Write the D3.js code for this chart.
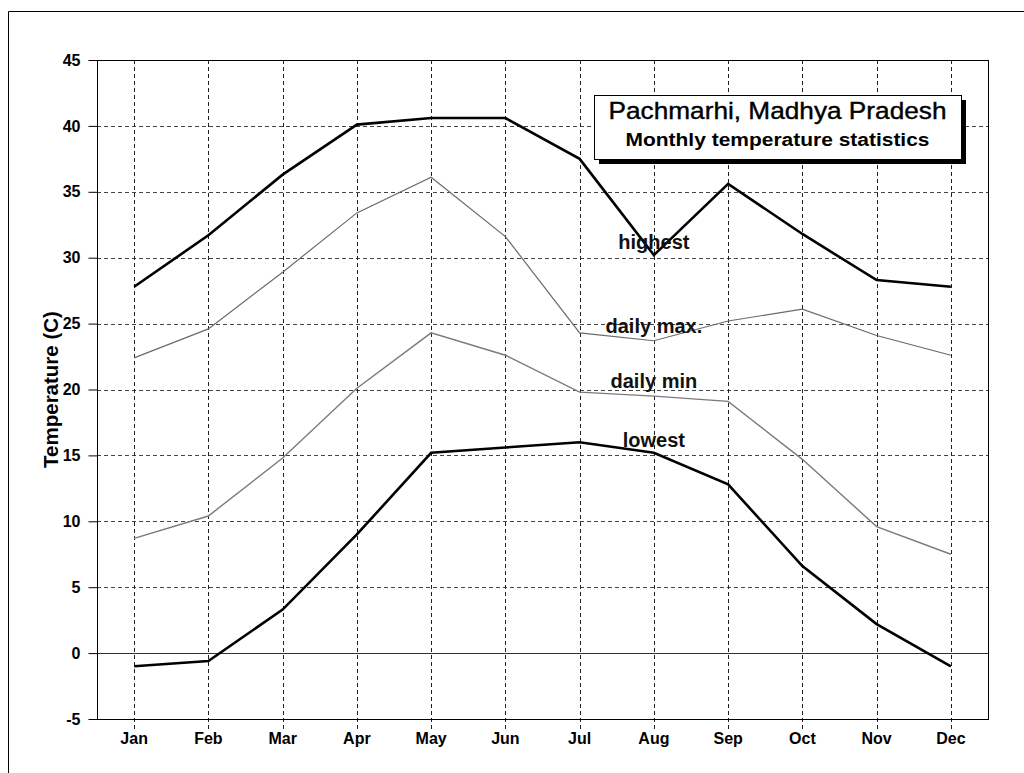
<!DOCTYPE html>
<html>
<head>
<meta charset="utf-8">
<script src="https://cdn.jsdelivr.net/npm/d3@7"></script>
<style>
  html, body { margin: 0; padding: 0; background: #fff; }
  svg { display: block; }
  text { font-family: "Liberation Sans", Arial, sans-serif; }
</style>
</head>
<body>
<svg id="chart" width="1024" height="773"></svg>
<script>
const months = ["Jan","Feb","Mar","Apr","May","Jun","Jul","Aug","Sep","Oct","Nov","Dec"];
const highest  = [27.8, 31.7, 36.3, 40.1, 40.6, 40.6, 37.5, 30.2, 35.6, 31.8, 28.3, 27.8];
const dailyMax = [22.4, 24.6, 28.9, 33.4, 36.1, 31.6, 24.3, 23.7, 25.2, 26.1, 24.1, 22.6];
const dailyMin = [8.7, 10.4, 14.8, 20.1, 24.3, 22.6, 19.8, 19.5, 19.1, 14.7, 9.6, 7.5];
const lowest   = [-1.0, -0.6, 3.3, 9.0, 15.2, 15.6, 16.0, 15.2, 12.8, 6.6, 2.2, -1.0];
const yTicks   = [-5, 0, 5, 10, 15, 20, 25, 30, 35, 40, 45];
const seriesLabels = ["highest", "daily max.", "daily min", "lowest"];
const titleLines = ["Pachmarhi, Madhya Pradesh", "Monthly temperature statistics"];
const yTitle = "Temperature (C)";

const svg = d3.select("#chart");
const L = 97, R = 988, T = 60, B = 719;

const x = d3.scaleBand().domain(months).range([L, R]);
const xc = m => x(m) + x.bandwidth() / 2;
const y = d3.scaleLinear().domain([-5, 45]).range([B, T]);

// outer frame
svg.append("path").attr("d", "M8.5,773 V11.5 H1024")
  .attr("fill", "none").attr("stroke", "#000").attr("stroke-width", 1);

// horizontal gridlines
svg.append("g").selectAll("line").data(yTicks.filter(t => t !== -5 && t !== 45 && t !== 0)).join("line")
  .attr("x1", L).attr("x2", R)
  .attr("y1", d => Math.round(y(d)) + 0.5).attr("y2", d => Math.round(y(d)) + 0.5)
  .attr("stroke", "#444").attr("stroke-width", 1).attr("stroke-dasharray", "4,3");

// vertical gridlines (extending below axis as ticks)
svg.append("g").selectAll("line").data(months).join("line")
  .attr("x1", d => Math.round(xc(d)) + 0.5).attr("x2", d => Math.round(xc(d)) + 0.5)
  .attr("y1", T).attr("y2", B + 11)
  .attr("stroke", "#222").attr("stroke-width", 1).attr("stroke-dasharray", "4,3");

// zero line
svg.append("line").attr("x1", L).attr("x2", R)
  .attr("y1", Math.round(y(0)) + 0.5).attr("y2", Math.round(y(0)) + 0.5)
  .attr("stroke", "#333").attr("stroke-width", 1);

// plot frame
svg.append("rect").attr("x", L + 0.5).attr("y", T + 0.5)
  .attr("width", R - L).attr("height", B - T)
  .attr("fill", "none").attr("stroke", "#000").attr("stroke-width", 1);

// y axis via d3 axis
const yAxis = d3.axisLeft(y).tickValues(yTicks).tickFormat(d => String(d)).tickSize(9).tickPadding(8);
const gy = svg.append("g").attr("transform", `translate(${L + 0.5},0)`).call(yAxis);
gy.select(".domain").remove();
gy.selectAll(".tick line").attr("stroke", "#000");
gy.selectAll(".tick text").attr("font-size", 16).attr("font-weight", "bold")
  .attr("font-family", "'Liberation Sans', Arial, sans-serif").attr("fill", "#000");

// x axis labels via d3 axis
const xAxis = d3.axisBottom(x).tickSize(0).tickPadding(14);
const gx = svg.append("g").attr("transform", `translate(0,${B})`).call(xAxis);
gx.select(".domain").remove();
gx.selectAll(".tick text").attr("font-size", 16).attr("font-weight", "bold")
  .attr("font-family", "'Liberation Sans', Arial, sans-serif").attr("fill", "#000");

// y title
svg.append("text")
  .attr("transform", `translate(58,${(T + B) / 2}) rotate(-90)`)
  .attr("text-anchor", "middle")
  .attr("font-size", 20.5).attr("font-weight", "bold").attr("fill", "#000")
  .text(yTitle);

// lines
const line = d3.line().x((d, i) => xc(months[i])).y(d => y(d));
const series = [
  { data: highest, color: "#000", w: 2.6 },
  { data: dailyMax, color: "#6a6a6a", w: 1.2 },
  { data: dailyMin, color: "#7a7a7a", w: 1.4 },
  { data: lowest, color: "#000", w: 2.6 }
];
series.forEach(s => {
  svg.append("path").datum(s.data).attr("d", line)
    .attr("fill", "none").attr("stroke", s.color).attr("stroke-width", s.w)
    .attr("stroke-linejoin", "miter");
});

// series labels
const labelY = [249, 333, 388, 447];
seriesLabels.forEach((t, i) => {
  svg.append("text").attr("x", xc("Aug")).attr("y", labelY[i])
    .attr("text-anchor", "middle").attr("font-size", 20).attr("font-weight", "bold")
    .attr("fill", "#111").text(t);
});

// title box
const bx = 594, by = 95, bw = 367, bh = 64;
svg.append("rect").attr("x", bx + 5).attr("y", by + 5).attr("width", bw).attr("height", bh).attr("fill", "#000");
svg.append("rect").attr("x", bx + 0.5).attr("y", by + 0.5).attr("width", bw).attr("height", bh)
  .attr("fill", "#fff").attr("stroke", "#000").attr("stroke-width", 1);
svg.append("text").attr("x", bx + bw / 2).attr("y", 119).attr("text-anchor", "middle")
  .attr("font-size", 24.5).attr("fill", "#000").attr("stroke", "#000").attr("stroke-width", 0.4)
  .attr("textLength", 338).attr("lengthAdjust", "spacingAndGlyphs").text(titleLines[0]);
svg.append("text").attr("x", bx + bw / 2).attr("y", 145.5).attr("text-anchor", "middle")
  .attr("font-size", 18).attr("font-weight", "bold").attr("fill", "#000")
  .attr("textLength", 304).attr("lengthAdjust", "spacingAndGlyphs").text(titleLines[1]);
</script>
</body>
</html>
